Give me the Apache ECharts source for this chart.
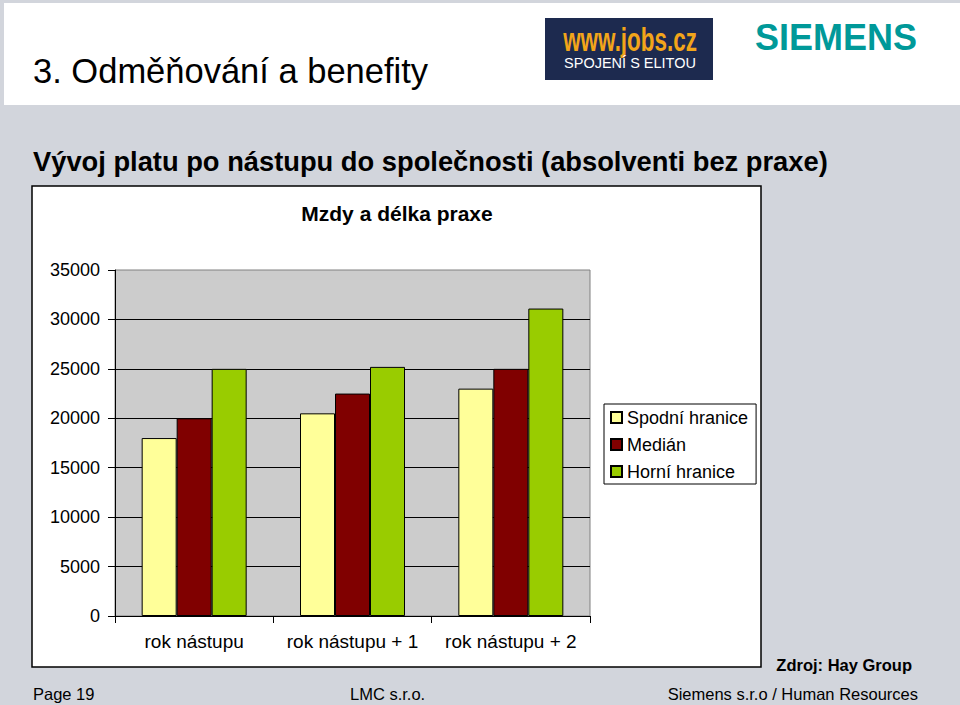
<!DOCTYPE html>
<html>
<head>
<meta charset="utf-8">
<style>
html,body{margin:0;padding:0;background:#d2d5dc;}
#c{width:960px;height:705px;}
</style>
<script src="https://cdn.jsdelivr.net/npm/echarts@6/dist/echarts.min.js"></script>
</head>
<body>
<div id="c"></div>
<script>
const categories = ['rok nástupu', 'rok nástupu + 1', 'rok nástupu + 2'];
const seriesNames = ['Spodní hranice', 'Medián', 'Horní hranice'];
const lowerBound = [18000, 20500, 23000];
const median = [20000, 22500, 25000];
const upperBound = [25000, 25200, 31100];
const yTicks = { min: 0, max: 35000, interval: 5000 };

const FONT = '"Liberation Sans", Arial, sans-serif';
const chart = echarts.init(document.getElementById('c'), null, { renderer: 'svg', width: 960, height: 705 });

function txt(x, y, text, font, opts) {
  return Object.assign({ type: 'text', z: 10, x: x, y: y,
    style: Object.assign({ text: text, font: font, fill: '#000', verticalAlign: 'top' }, (opts && opts.style) || {}) },
    (opts && opts.el) || {});
}

chart.setOption({
  backgroundColor: '#d2d5dc',
  animation: false,
  textStyle: { fontFamily: FONT },
  graphic: [
    { type: 'rect', z: -10, shape: { x: 4, y: 3, width: 956, height: 102 }, style: { fill: '#ffffff' } },
    txt(33, 53, '3. Odměňování a benefity', '34.5px ' + FONT),
    { type: 'rect', z: 10, shape: { x: 545, y: 18, width: 168, height: 62 }, style: { fill: '#1d2a4f' } },
    txt(630, 23, 'www.jobs.cz', 'bold 33px ' + FONT, { style: { fill: '#f2a51a', align: 'center' }, el: { z: 11, scaleX: 0.68, originX: 0, originY: 0 } }),
    txt(630, 55, 'SPOJENÍ S ELITOU', '14.5px ' + FONT, { style: { fill: '#ffffff', align: 'center' }, el: { z: 11 } }),
    txt(755, 19, 'SIEMENS', 'bold 36px ' + FONT, { style: { fill: '#009999' } }),
    txt(33, 148, 'Vývoj platu po nástupu do společnosti (absolventi bez praxe)', 'bold 27.3px ' + FONT),
    { type: 'rect', z: -5, shape: { x: 32, y: 186, width: 729, height: 481 }, style: { fill: '#ffffff', stroke: '#000', lineWidth: 1.5 } },
    txt(397, 203, 'Mzdy a délka praxe', 'bold 21px ' + FONT, { style: { align: 'center' } }),
    txt(912, 656, 'Zdroj: Hay Group', 'bold 16.5px ' + FONT, { style: { align: 'right' } }),
    txt(33, 685, 'Page 19', '16.5px ' + FONT),
    txt(350, 685, 'LMC s.r.o.', '16.5px ' + FONT),
    txt(918, 685, 'Siemens s.r.o / Human Resources', '16.5px ' + FONT, { style: { align: 'right' } })
  ],
  grid: {
    left: 115, top: 270, width: 475, height: 346,
    show: true, backgroundColor: '#cccccc', borderColor: '#808080', borderWidth: 1
  },
  legend: {
    left: 604, top: 404,
    orient: 'vertical',
    icon: 'rect',
    itemWidth: 11, itemHeight: 11,
    itemGap: 6,
    padding: [3, 8, 2, 6],
    backgroundColor: '#ffffff',
    borderColor: '#000', borderWidth: 1,
    textStyle: { fontSize: 18, color: '#000', lineHeight: 21, fontFamily: FONT },
    data: seriesNames
  },
  xAxis: {
    type: 'category',
    data: categories,
    axisLine: { lineStyle: { color: '#000', width: 1 } },
    axisTick: { show: true, length: 7, lineStyle: { color: '#000' } },
    axisLabel: { fontSize: 19, color: '#000', margin: 16, interval: 0, fontFamily: FONT },
    splitLine: { show: false }
  },
  yAxis: {
    type: 'value',
    min: yTicks.min, max: yTicks.max, interval: yTicks.interval,
    axisLine: { show: true, lineStyle: { color: '#000', width: 1 } },
    axisTick: { show: true, length: 7, lineStyle: { color: '#000' } },
    axisLabel: { fontSize: 18, color: '#000', margin: 15, fontFamily: FONT, formatter: function (v) { return String(v); } },
    splitLine: { show: true, showMaxLine: false, lineStyle: { color: '#000', width: 1 } }
  },
  series: [
    { name: seriesNames[0], type: 'bar', data: lowerBound, barWidth: 35, barGap: '0%', itemStyle: { color: '#ffff99', borderColor: '#000', borderWidth: 1 } },
    { name: seriesNames[1], type: 'bar', data: median, barWidth: 35, barGap: '0%', itemStyle: { color: '#800000', borderColor: '#000', borderWidth: 1 } },
    { name: seriesNames[2], type: 'bar', data: upperBound, barWidth: 35, barGap: '0%', itemStyle: { color: '#99cc00', borderColor: '#000', borderWidth: 1 } }
  ]
});
</script>
</body>
</html>
